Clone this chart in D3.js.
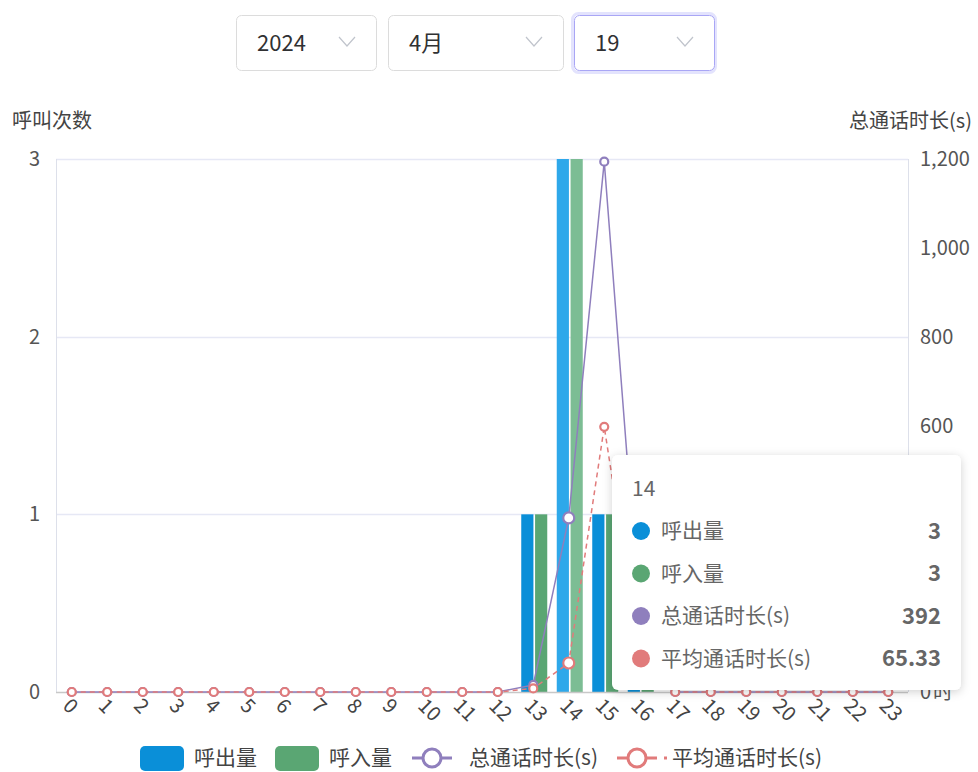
<!DOCTYPE html>
<html>
<head>
<meta charset="utf-8">
<script src="https://cdn.jsdelivr.net/npm/d3@7/dist/d3.min.js"></script>
<style>
  body { margin: 0; background: #fff; font-family: "Noto Sans CJK SC", "Noto Sans", sans-serif; }
  svg text { font-family: "Noto Sans CJK SC", "Noto Sans", sans-serif; }
</style>
</head>
<body>
<div id="chart"></div>
<script>
// data
var hours = d3.range(24).map(String);
var callOut = [0,0,0,0,0,0,0,0,0,0,0,0,0,1,3,1,1,0,0,0,0,0,0,0];
var callIn  = [0,0,0,0,0,0,0,0,0,0,0,0,0,1,3,1,1,0,0,0,0,0,0,0];
var totalDur = [0,0,0,0,0,0,0,0,0,0,0,0,0,16,392,1194,160,0,0,0,0,0,0,0];
var avgDur   = [0,0,0,0,0,0,0,0,0,0,0,0,0,8,65.33,597,80,0,0,0,0,0,0,0];
var leftTicks = [0, 1, 2, 3];
var rightTicks = [0, 200, 400, 600, 800, 1000, 1200];
var selects = ["2024", "4月", "19"];
var seriesNames = ["呼出量", "呼入量", "总通话时长(s)", "平均通话时长(s)"];
var hoverIndex = 14;

var colors = ["#0a8fd8", "#5aa673", "#8f7fbd", "#e17b7b"];
var hoverColors = ["#2ea8ea", "#7cbd94"];

var W = 978, H = 772;
var margin = {top: 159, right: 70, bottom: 80, left: 56};

var svg = d3.select("#chart").append("svg")
    .attr("width", W).attr("height", H);

// select boxes on top
var selBoxes = [{x: 236, w: 140}, {x: 388, w: 175}, {x: 574, w: 140}];
selBoxes.forEach(function (b, i) {
    var focused = i === 2;
    if (focused) {
        svg.append("rect").attr("x", b.x - 1.5).attr("y", 13.5).attr("width", b.w + 3).attr("height", 59)
            .attr("rx", 6).attr("fill", "none").attr("stroke", "#e3e3fd").attr("stroke-width", 3);
    }
    svg.append("rect").attr("x", b.x + 0.5).attr("y", 15.5).attr("width", b.w).attr("height", 55)
        .attr("rx", 5).attr("fill", "#fff")
        .attr("stroke", focused ? "#a9a6f5" : "#dcdcdc").attr("stroke-width", 1);
    svg.append("text").attr("x", b.x + 21).attr("y", 51)
        .attr("font-size", 22).attr("fill", "#303133").text(selects[i]);
    var cx = b.x + b.w - 29;
    svg.append("path")
        .attr("d", "M" + (cx - 8) + ",37 L" + cx + ",46 L" + (cx + 8) + ",37")
        .attr("fill", "none").attr("stroke", "#c0c4cc").attr("stroke-width", 1.2);
});

var plotW = W - margin.left - margin.right;   // 852
var plotB = H - margin.bottom;                // 692

var x = d3.scaleBand().domain(hours).range([margin.left, margin.left + plotW]);
var xs = d3.scaleBand().domain([0, 1]).range([-14, 12]).paddingInner(0.12);
var yL = d3.scaleLinear().domain([0, 3]).range([plotB, margin.top]);
var yR = d3.scaleLinear().domain([0, 1200]).range([plotB, margin.top]);

// grid
svg.append("g").selectAll("line").data(leftTicks.slice(1)).enter().append("line")
    .attr("x1", margin.left).attr("x2", margin.left + plotW)
    .attr("y1", function (d) { return Math.round(yL(d)) + 0.5; })
    .attr("y2", function (d) { return Math.round(yL(d)) + 0.5; })
    .attr("stroke", "#e6e8f5").attr("stroke-width", 1.5);

// axis lines
svg.append("line").attr("x1", margin.left + 0.5).attr("x2", margin.left + 0.5)
    .attr("y1", margin.top).attr("y2", plotB).attr("stroke", "#dde0ea");
svg.append("line").attr("x1", margin.left + plotW + 0.5).attr("x2", margin.left + plotW + 0.5)
    .attr("y1", margin.top).attr("y2", plotB).attr("stroke", "#dde0ea");

// left axis labels
svg.append("g").selectAll("text").data(leftTicks).enter().append("text")
    .attr("x", 40).attr("y", function (d) { return yL(d); }).attr("dy", "0.35em")
    .attr("text-anchor", "end").attr("font-size", 20).attr("fill", "#555")
    .text(function (d) { return d; });
svg.append("text").attr("x", 12).attr("y", 128).attr("font-size", 20).attr("fill", "#444").text("呼叫次数");

// right axis labels
var fmt = d3.format(",");
svg.append("g").selectAll("text").data(rightTicks).enter().append("text")
    .attr("x", 920).attr("y", function (d) { return yR(d); }).attr("dy", "0.35em")
    .attr("font-size", 20).attr("fill", "#555")
    .text(function (d) { return fmt(d); });
svg.append("text").attr("x", 972).attr("y", 128).attr("text-anchor", "end")
    .attr("font-size", 20).attr("fill", "#444").text("总通话时长(s)");

// bars
[callOut, callIn].forEach(function (vals, s) {
    svg.append("g").selectAll("rect").data(vals).enter().append("rect")
        .attr("x", function (d, i) { return x(hours[i]) + x.bandwidth() / 2 + xs(s); })
        .attr("width", xs.bandwidth())
        .attr("y", function (d) { return yL(d); })
        .attr("height", function (d) { return plotB - yL(d); })
        .attr("fill", function (d, i) { return i === hoverIndex ? hoverColors[s] : colors[s]; });
});

// bottom axis line
svg.append("line").attr("x1", margin.left).attr("x2", margin.left + plotW)
    .attr("y1", plotB + 0.5).attr("y2", plotB + 0.5).attr("stroke", "#c8c8c8").attr("stroke-width", 1.5);

// lines
function cx(i) { return x(hours[i]) + x.bandwidth() / 2 - 2; }
var line = d3.line().x(function (d, i) { return cx(i); }).y(function (d) { return yR(d); });

[totalDur, avgDur].forEach(function (vals, k) {
    var col = colors[2 + k];
    svg.append("path").datum(vals).attr("d", line)
        .attr("fill", "none").attr("stroke", col).attr("stroke-width", 1.5)
        .attr("stroke-dasharray", k === 1 ? "5,4" : null);
    svg.append("g").selectAll("circle").data(vals).enter().append("circle")
        .attr("cx", function (d, i) { return cx(i); })
        .attr("cy", function (d) { return yR(d); })
        .attr("r", function (d, i) { return i === hoverIndex ? 5.5 : 4; })
        .attr("fill", "#fff").attr("stroke", col).attr("stroke-width", 2.2);
});

// x labels
svg.append("g").selectAll("text").data(hours).enter().append("text")
    .attr("transform", function (d) { return "translate(" + (x(d) + x.bandwidth() / 2 - 7) + "," + (plotB + 10) + ") rotate(45)"; })
    .attr("dy", "0.35em").attr("font-size", 20).attr("fill", "#444")
    .text(function (d) { return d; });
svg.append("text").attr("x", 933).attr("y", plotB).attr("dy", "0.35em")
    .attr("font-size", 20).attr("fill", "#555").text("时");

// tooltip
var defs = svg.append("defs");
var f = defs.append("filter").attr("id", "shadow").attr("x", "-20%").attr("y", "-20%").attr("width", "140%").attr("height", "140%");
f.append("feDropShadow").attr("dx", 0).attr("dy", 2).attr("stdDeviation", 5).attr("flood-color", "#000").attr("flood-opacity", 0.18);
var tip = svg.append("g").attr("transform", "translate(612,455)");
tip.append("rect").attr("width", 349).attr("height", 235).attr("rx", 6)
    .attr("fill", "#fff").attr("filter", "url(#shadow)");
tip.append("text").attr("x", 20).attr("y", 41).attr("font-size", 21).attr("fill", "#666").text(hours[hoverIndex]);
var tipVals = [callOut[hoverIndex], callIn[hoverIndex], totalDur[hoverIndex], avgDur[hoverIndex]];
seriesNames.forEach(function (n, i) {
    var yy = 76 + i * 42.5;
    tip.append("circle").attr("cx", 29).attr("cy", yy).attr("r", 9).attr("fill", colors[i]);
    tip.append("text").attr("x", 49).attr("y", yy).attr("dy", "0.35em")
        .attr("font-size", 21).attr("fill", "#666").text(n);
    tip.append("text").attr("x", 329).attr("y", yy).attr("dy", "0.35em").attr("text-anchor", "end")
        .attr("font-size", 22).attr("font-weight", "bold").attr("fill", "#666").text(tipVals[i]);
});

// legend
var lg = svg.append("g").attr("transform", "translate(0,758)");
var iconX = [140, 275, 412, 617];
var labelX = [194, 329, 469, 672];
seriesNames.forEach(function (n, i) {
    var ix = iconX[i];
    if (i < 2) {
        lg.append("rect").attr("x", ix).attr("y", -12).attr("width", 44).attr("height", 25).attr("rx", 5)
            .attr("fill", colors[i]);
    } else {
        lg.append("line").attr("x1", ix).attr("x2", ix + 40).attr("y1", 0).attr("y2", 0)
            .attr("stroke", colors[i]).attr("stroke-width", 3);
        if (i === 3) {
            lg.append("line").attr("x1", ix + 47).attr("x2", ix + 50).attr("y1", 0).attr("y2", 0)
                .attr("stroke", colors[i]).attr("stroke-width", 3);
        }
        lg.append("circle").attr("cx", ix + 20).attr("cy", 0).attr("r", 9)
            .attr("fill", "#fff").attr("stroke", colors[i]).attr("stroke-width", 3);
    }
    lg.append("text").attr("x", labelX[i]).attr("y", 0).attr("dy", "0.35em")
        .attr("font-size", 21).attr("fill", "#444").text(n);
});
</script>
</body>
</html>
